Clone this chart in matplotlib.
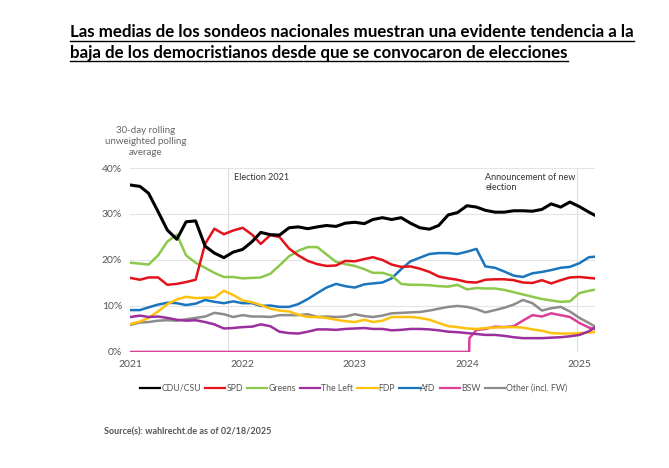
#plot national polling averages
import matplotlib.pyplot as plt
import matplotlib.dates as mdates
import pandas as pd

# monthly sample points (first of each month) + last day of data
dates = list(pd.date_range('2021-01-01', periods=50, freq='MS')) + [pd.Timestamp('2025-02-18')]

cdu = [36.3, 36.0, 34.5, 30.5, 26.5, 24.5, 28.3, 28.5, 23.0, 21.5,
       20.5, 21.7, 22.3, 24.0, 26.0, 25.5, 25.4, 27.0, 27.2, 26.8,
       27.2, 27.5, 27.3, 28.0, 28.2, 27.9, 28.8, 29.2, 28.8, 29.2,
       28.0, 27.0, 26.7, 27.5, 29.8, 30.3, 31.8, 31.5, 30.8, 30.4,
       30.4, 30.7, 30.7, 30.6, 31.0, 32.2, 31.5, 32.6, 31.6, 30.4, 29.8]
spd = [16.1, 15.7, 16.2, 16.2, 14.6, 14.8, 15.2, 15.7, 23.5, 26.8,
       25.6, 26.4, 27.0, 25.5, 23.5, 25.4, 25.0, 22.5, 21.0, 19.8,
       19.1, 18.7, 18.8, 19.8, 19.7, 20.2, 20.6, 20.0, 19.0, 18.5,
       18.6, 18.1, 17.4, 16.4, 16.0, 15.7, 15.2, 15.1, 15.7, 15.8,
       15.8, 15.6, 15.1, 15.0, 15.6, 14.9, 15.6, 16.2, 16.3, 16.1, 16.0]
greens = [19.4, 19.2, 19.0, 21.0, 24.0, 25.5, 21.0, 19.4, 18.3, 17.2,
          16.3, 16.3, 16.0, 16.1, 16.2, 17.0, 18.8, 20.8, 22.0, 22.8,
          22.8, 21.2, 19.6, 19.1, 18.7, 18.0, 17.2, 17.2, 16.6, 14.8,
          14.6, 14.6, 14.5, 14.3, 14.2, 14.6, 13.6, 13.9, 13.8, 13.8,
          13.5, 13.0, 12.5, 12.0, 11.5, 11.2, 10.9, 11.0, 12.8, 13.3, 13.5]
left = [7.6, 7.9, 7.6, 7.7, 7.4, 7.0, 6.8, 6.9, 6.5, 6.0,
        5.1, 5.2, 5.4, 5.5, 6.0, 5.6, 4.4, 4.1, 4.0, 4.4,
        4.9, 4.9, 4.8, 5.0, 5.1, 5.2, 5.0, 5.0, 4.7, 4.8,
        5.0, 5.0, 4.9, 4.7, 4.4, 4.3, 4.1, 3.9, 3.7, 3.7,
        3.5, 3.2, 3.0, 3.0, 3.0, 3.1, 3.2, 3.4, 3.7, 4.5, 5.2]
fdp = [6.1, 6.6, 7.4, 8.8, 10.4, 11.4, 12.0, 11.7, 11.8, 11.8,
       13.3, 12.4, 11.2, 10.8, 10.2, 9.4, 9.0, 8.8, 8.1, 7.6,
       7.6, 7.4, 7.0, 6.7, 6.5, 7.0, 6.5, 6.8, 7.6, 7.6,
       7.6, 7.4, 7.0, 6.3, 5.6, 5.4, 5.1, 5.0, 5.2, 5.3,
       5.4, 5.4, 5.3, 4.9, 4.6, 4.1, 4.0, 4.0, 4.1, 4.2, 4.3]
afd = [9.1, 9.1, 9.7, 10.3, 10.7, 10.6, 10.2, 10.5, 11.3, 10.9,
       10.6, 11.0, 10.6, 10.6, 10.0, 10.1, 9.8, 9.8, 10.4, 11.5,
       12.8, 14.0, 14.8, 14.3, 14.0, 14.7, 14.9, 15.1, 16.0, 18.0,
       19.7, 20.5, 21.3, 21.5, 21.5, 21.3, 21.8, 22.4, 18.6, 18.3,
       17.5, 16.6, 16.3, 17.1, 17.4, 17.8, 18.3, 18.5, 19.3, 20.6, 20.7]
other = [5.9, 6.4, 6.5, 6.8, 6.9, 6.8, 7.1, 7.4, 7.7, 8.5,
         8.2, 7.6, 8.0, 7.7, 7.7, 7.6, 8.0, 8.0, 8.0, 8.2,
         7.6, 7.7, 7.6, 7.7, 8.2, 7.8, 7.6, 7.9, 8.4, 8.5,
         8.6, 8.7, 9.0, 9.4, 9.8, 10.0, 9.8, 9.3, 8.6, 9.1,
         9.6, 10.3, 11.3, 10.6, 9.0, 9.5, 9.8, 8.8, 7.4, 6.3, 5.6]
# BSW: zero until founded in Jan 2024, then polled
bsw = [0.0] * 37 + [4.8, 5.0, 5.5, 5.4, 5.6, 6.8, 8.0, 7.7, 8.4, 8.0, 7.6, 6.3, 5.3, 5.0]
bsw_launch = pd.Timestamp('2024-01-09')
bsw_launch_value = 3.0

parties = ['CDU/CSU', 'SPD', 'Greens', 'The Left', 'FDP', 'AfD', 'BSW', 'Other (incl. FW)']
colors = ['#000000', '#e3121b', '#8cc84b', '#9b2f9e', '#fdc10e', '#1b75bc', '#da3f9a', '#8c8c8c']

df = pd.DataFrame({'CDU/CSU': cdu, 'SPD': spd, 'Greens': greens, 'The Left': left,
                   'FDP': fdp, 'AfD': afd, 'BSW': bsw, 'Other (incl. FW)': other}, index=dates)

# insert the launch step for BSW
bsw_s = df['BSW'].copy()
bsw_s.loc[bsw_launch - pd.Timedelta(days=1)] = 0.0
bsw_s.loc[bsw_launch] = bsw_launch_value
bsw_s = bsw_s.sort_index()

fig = plt.figure(figsize=(6.69, 4.68), dpi=100)
plt.rcParams['font.family'] = ['Lato', 'DejaVu Sans']
ax = fig.add_axes([0.195, 0.248, 0.695, 0.393])

for i, (p, c) in enumerate(zip(parties, colors)):
    series = bsw_s if p == 'BSW' else df[p]
    lw = 2.2 if p == 'CDU/CSU' else 1.8
    ax.plot(series.index, series.values, color=c, linewidth=lw, label=p, zorder=10 - i)

ax.set_ylim(0, 40)
ax.set_xlim(pd.Timestamp('2021-01-01'), pd.Timestamp('2025-02-22'))
ax.set_yticks([0, 10, 20, 30, 40])
ax.set_yticklabels(['0%', '10%', '20%', '30%', '40%'])
ax.xaxis.set_major_locator(mdates.YearLocator())
ax.xaxis.set_major_formatter(mdates.DateFormatter('%Y'))
ax.tick_params(length=0, labelsize=7.5, labelcolor='#555555', pad=6)
ax.grid(axis='y', color='#e4e4e4', linewidth=0.8)
ax.set_axisbelow(True)
for s in ax.spines.values():
    s.set_visible(False)

# event markers
election = pd.Timestamp('2021-11-15')
announce = pd.Timestamp('2024-12-25')
ax.axvline(election, color='#dddddd', linewidth=0.8, zorder=0)
ax.axvline(announce, color='#dddddd', linewidth=0.8, zorder=0)
ax.text(election + pd.Timedelta(days=20), 39, 'Election 2021', fontsize=6.5, color='#333333', va='top')
ax.text(pd.Timestamp('2024-03-01'), 39, 'Announcement of new\nelection', fontsize=6.5,
        color='#333333', va='top', linespacing=1.2)

fig.text(0.218, 0.665, '30-day rolling\nunweighted polling\naverage', ha='center', va='bottom',
         fontsize=7, color='#666666', linespacing=1.3)

leg = ax.legend(loc='upper center', bbox_to_anchor=(0.48, -0.13), ncol=8, frameon=False, fontsize=6.3,
                handlelength=2.3, handletextpad=0.1, columnspacing=0.5, labelcolor='#555555')
for h in leg.get_lines():
    h.set_linewidth(1.6)

fig.text(0.155, 0.072, 'Source(s): wahlrecht.de as of 02/18/2025', fontsize=6.5, fontweight='bold',
         color='#555555')

# underlined two-line heading
lines = ['Las medias de los sondeos nacionales muestran una evidente tendencia a la',
         'baja de los democristianos desde que se convocaron de elecciones']
tys = [0.92, 0.877]
fig.canvas.draw()
r = fig.canvas.get_renderer()
for txt, ty in zip(lines, tys):
    t = fig.text(0.105, ty, txt, fontsize=12.15, fontweight='bold', color='black')
    bb = t.get_window_extent(renderer=r).transformed(fig.transFigure.inverted())
    fig.add_artist(plt.Line2D([bb.x0, bb.x1], [ty - 0.007, ty - 0.007], color='black', linewidth=1.0))

fig.savefig('out.png', dpi=100)
